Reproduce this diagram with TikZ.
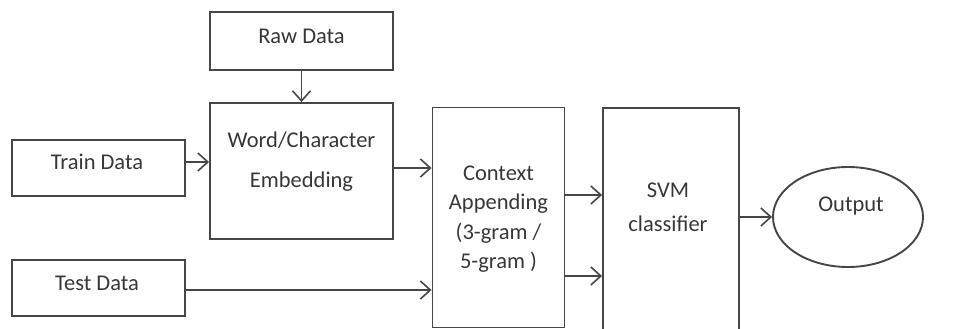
\documentclass[tikz,border=0pt]{standalone}
\usepackage{fontspec}
\setmainfont{Carlito}
\usetikzlibrary{arrows.meta,shapes.geometric}
\definecolor{ink}{RGB}{70,70,70}
\definecolor{txt}{RGB}{55,55,55}
\begin{document}
\begin{tikzpicture}[x=1pt,y=-1pt,
  box/.style={draw=ink,line width=1.9pt,rectangle,inner sep=0pt},
  lbl/.style={text=txt,font=\fontsize{22.5}{40}\selectfont,align=center},
  flow/.style={draw=ink,line width=1.9pt,-{Straight Barb[length=10pt,width=18pt,line width=1.6pt]}}]
\clip (0,0) rectangle (961,329);
\useasboundingbox (0,0) rectangle (961,329);
% input boxes
\node[box,minimum width=183pt,minimum height=58pt] (raw) at (301.5,41) {};
\node[lbl] at (301.5,36) {Raw Data};
\node[box,minimum width=183pt,minimum height=136pt] (emb) at (301.5,171) {};
\node[lbl] at (301.5,162) {Word/Character\\Embedding};
\node[box,minimum width=173pt,minimum height=56pt] (train) at (98.5,168) {};
\node[lbl] at (97,162) {Train Data};
\node[box,minimum width=173pt,minimum height=56pt] (test) at (98.5,288) {};
\node[lbl] at (97,283) {Test Data};
% processing blocks
\node[box,minimum width=132pt,minimum height=220pt] (ctx) at (498.5,217.5) {};
\node[lbl,font=\fontsize{22.5}{29.5}\selectfont] at (498.5,219) {Context\\Appending\\(3-gram /\\5-gram )};
\node[box,minimum width=136pt,minimum height=224pt] (svm) at (671,220) {};
\node[lbl,font=\fontsize{22.5}{34}\selectfont] at (668,207) {SVM\\classifier};
\node[ellipse,draw=ink,line width=1.9pt,minimum width=150pt,minimum height=100pt,inner sep=0pt] (out) at (848,217) {};
\node[lbl] at (851,206) {Output};
% connectors
\draw[flow] (raw.south) -- (emb.north);
\draw[flow] (train.east |- 0,162) -- (emb.west |- 0,162);
\draw[flow] (emb.east |- 0,168) -- (ctx.west |- 0,168);
\draw[flow] (test.east |- 0,290) -- (ctx.west |- 0,290);
\draw[flow] (ctx.east |- 0,195) -- (svm.west |- 0,195);
\draw[flow] (ctx.east |- 0,276) -- (svm.west |- 0,276);
\draw[flow] (svm.east |- 0,217) -- (out.west);
\end{tikzpicture}
\end{document}
